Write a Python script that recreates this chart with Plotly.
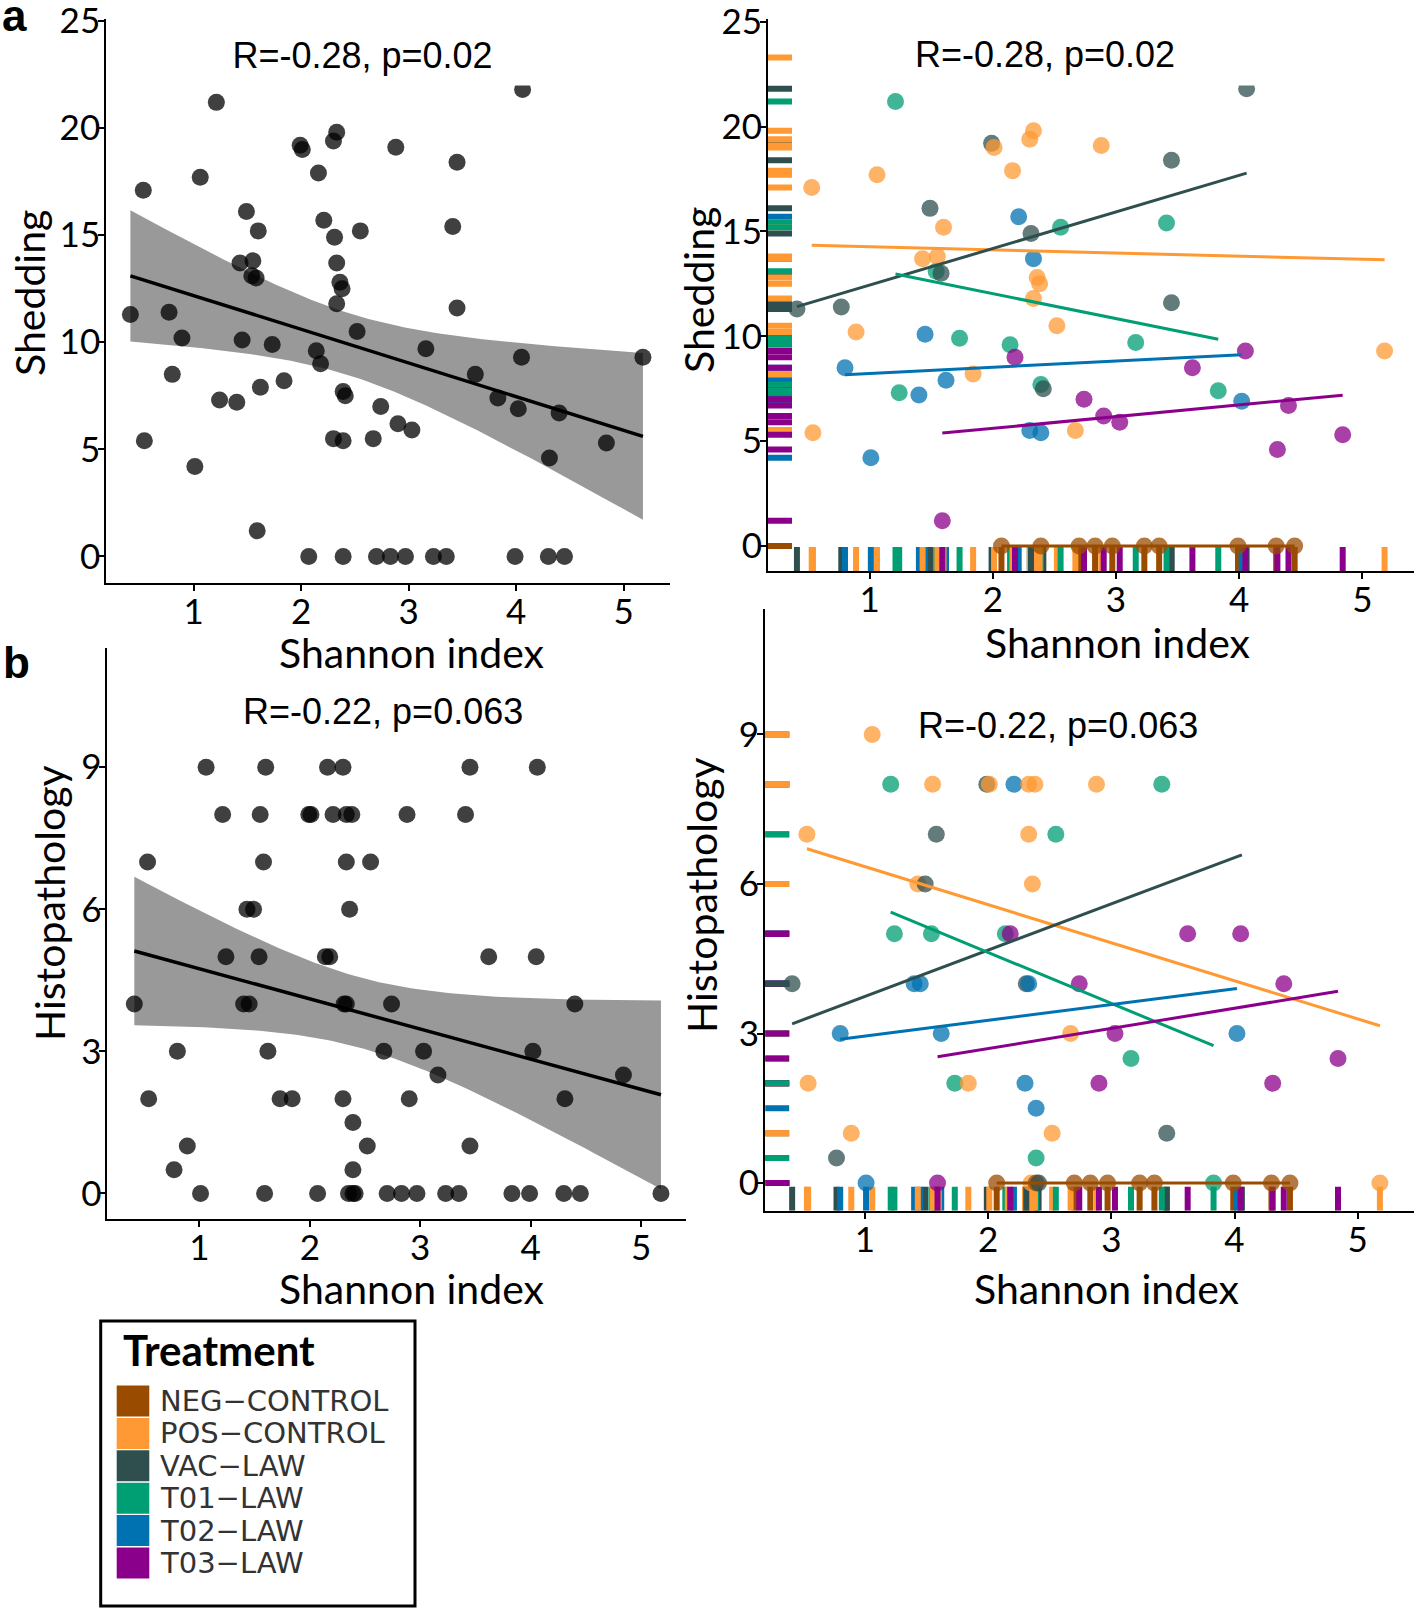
import numpy as np
import plotly.graph_objects as go

FIG_W, FIG_H = 1418, 1610

# ---------------- data ----------------
treatment_levels = ["NEG-CONTROL", "POS-CONTROL", "VAC-LAW", "T01-LAW", "T02-LAW", "T03-LAW"]
treatment_labels = ["NEG\u2212CONTROL", "POS\u2212CONTROL", "VAC\u2212LAW", "T01\u2212LAW", "T02\u2212LAW", "T03\u2212LAW"]
treatment_colors = ["#994C00", "#FF9933", "#2F4F4F", "#009E73", "#0072B2", "#8B008B"]

shannon = [
    2.07, 2.39, 2.70, 2.83, 2.97, 3.23, 3.35, 3.99, 4.30, 4.45,
    0.41, 0.77, 1.49, 1.58, 1.99, 2.41, 3.45, 3.45, 4.06,
    0.80, 1.01, 1.40, 1.45, 1.62, 2.21, 2.33, 2.30, 2.39, 4.02,
    1.21, 1.24, 1.54, 2.14, 2.39, 3.16, 3.41, 3.83,
    0.53, 0.54, 0.89, 1.06, 1.43, 1.55, 1.60, 1.84, 2.01, 2.16,
    2.30, 2.33, 2.33, 2.35, 2.36, 2.38, 2.52, 2.67, 2.88, 5.18,
    1.59, 2.18, 2.74, 2.90, 3.03, 3.62, 4.05, 4.31, 4.40, 4.84,
    2.31, 2.55, 1.73,
]
shedding = [
    0, 0, 0, 0, 0, 0, 0, 0, 0, 0,
    11.3, 11.4, 16.1, 13.0, 19.2, 7.5, 18.4, 11.6, 21.8,
    8.5, 4.2, 7.2, 10.1, 7.9, 15.7, 13.7, 5.5, 5.4, 6.9,
    21.2, 7.3, 13.1, 9.6, 7.7, 9.7, 15.4, 7.4,
    17.1, 5.4, 10.2, 17.7, 13.7, 13.8, 15.2, 8.2, 19.0, 17.9,
    19.4, 19.8, 11.8, 23.3, 12.8, 12.5, 10.5, 5.5, 19.1, 9.3,
    1.2, 9.0, 7.0, 6.2, 5.9, 8.5, 9.3, 4.6, 6.7, 5.3,
    14.9, 15.2, 9.9,
]
histopathology = [
    0, 0, 0, 0, 0, 0, 0, 0, 0, 0,
    4, 0.5, 6, 7, 8, 0, 9, 1, 9,
    3, 0, 4, 4, 3, 8, 4, 2, 1.5, 3,
    8, 5, 5, 5, 0.5, 2.5, 8, 0,
    7, 2, 1, 9, 6, 8, 9, 2, 8, 9,
    9, 8, 7, 0, 6, 8, 1, 3, 8, 0,
    0, 5, 4, 2, 3, 5, 5, 2, 4, 2.5,
    4, 7, 2,
]
treatment = (
    ["NEG-CONTROL"] * 10 + ["VAC-LAW"] * 9 + ["T02-LAW"] * 10 + ["T01-LAW"] * 8
    + ["POS-CONTROL"] * 20 + ["T03-LAW"] * 10 + ["VAC-LAW", "T01-LAW", "T01-LAW"]
)

x_ticks = [1, 2, 3, 4, 5]
shed_ticks = [0, 5, 10, 15, 20, 25]
histo_ticks = [0, 3, 6, 9]
shed_stat_label = "R=-0.28, p=0.02"
histo_stat_label = "R=-0.22, p=0.063"
x_title = "Shannon index"
shed_title = "Shedding"
histo_title = "Histopathology"
legend_title = "Treatment"

# ---------------- style / geometry ----------------
PANELS = {
    "shed_all": dict(x="x", y="y", xdom=[0.0749, 0.4725], ydom=[0.6379, 0.9883], xr=[0.185, 5.432], yr=[-1.24, 25.1]),
    "shed_grp": dict(x="x2", y="y2", xdom=[0.5416, 0.9972], ydom=[0.6453, 0.9883], xr=[0.175, 5.419], yr=[-1.20, 25.14]),
    "hist_all": dict(x="x3", y="y3", xdom=[0.0758, 0.4838], ydom=[0.2430, 0.5973], xr=[0.167, 5.407], yr=[-0.535, 11.51]),
    "hist_grp": dict(x="x4", y="y4", xdom=[0.5396, 0.9972], ydom=[0.2480, 0.6218], xr=[0.191, 5.457], yr=[-0.556, 11.52]),
}
TICK_FONT = dict(family="Lato, Open Sans, sans-serif", size=35, color="black")
TITLE_FONT = dict(family="Lato, Open Sans, sans-serif", size=41, color="black")
STAT_FONT = dict(family="Liberation Sans, Arial, sans-serif", size=36, color="black")
POINT_SIZE = 17
RUG_LEN = 24
RUG_WIDTH = 6
T_CRIT = 1.9955  # t(0.975, df=68)

color_of = dict(zip(treatment_levels, treatment_colors))
X = np.array(shannon, dtype=float)
SHED = np.array(shedding, dtype=float)
HIST = np.array(histopathology, dtype=float)
TRT = np.array(treatment)
COLS = np.array([color_of[t] for t in treatment])

fig = go.Figure()


def fit_band(x, y, n_grid=100):
    n = len(x)
    b1, b0 = np.polyfit(x, y, 1)
    xs = np.linspace(x.min(), x.max(), n_grid)
    yhat = b0 + b1 * xs
    resid = y - (b0 + b1 * x)
    s = np.sqrt(np.sum(resid ** 2) / (n - 2))
    sxx = np.sum((x - x.mean()) ** 2)
    se = s * np.sqrt(1.0 / n + (xs - x.mean()) ** 2 / sxx)
    return xs, yhat, yhat - T_CRIT * se, yhat + T_CRIT * se


def px_per_unit(p):
    ppx = (p["xdom"][1] - p["xdom"][0]) * FIG_W / (p["xr"][1] - p["xr"][0])
    ppy = (p["ydom"][1] - p["ydom"][0]) * FIG_H / (p["yr"][1] - p["yr"][0])
    return ppx, ppy


def overall_panel(p, y):
    xs, yhat, lo, hi = fit_band(X, y)
    fig.add_trace(go.Scatter(
        x=np.concatenate([xs, xs[::-1]]), y=np.concatenate([lo, hi[::-1]]),
        fill="toself", fillcolor="#999999", line=dict(width=0), mode="lines",
        hoverinfo="skip", showlegend=False, xaxis=p["x"], yaxis=p["y"]))
    fig.add_trace(go.Scatter(
        x=X, y=y, mode="markers", showlegend=False,
        marker=dict(size=POINT_SIZE, color="rgba(0,0,0,0.75)", line=dict(width=0)),
        xaxis=p["x"], yaxis=p["y"]))
    fig.add_trace(go.Scatter(
        x=xs, y=yhat, mode="lines", line=dict(color="black", width=3.5),
        showlegend=False, xaxis=p["x"], yaxis=p["y"]))


def group_panel(p, y):
    ppx, ppy = px_per_unit(p)
    # rugs (data order)
    fig.add_trace(go.Scatter(
        x=X, y=np.full(len(X), p["yr"][0] + RUG_LEN / 2 / ppy), mode="markers",
        marker=dict(symbol="line-ns-open", size=RUG_LEN / 1.4, color=list(COLS),
                    line=dict(width=RUG_WIDTH, color=list(COLS))),
        showlegend=False, hoverinfo="skip", xaxis=p["x"], yaxis=p["y"]))
    fig.add_trace(go.Scatter(
        x=np.full(len(X), p["xr"][0] + RUG_LEN / 2 / ppx), y=y, mode="markers",
        marker=dict(symbol="line-ew-open", size=RUG_LEN / 1.4, color=list(COLS),
                    line=dict(width=RUG_WIDTH, color=list(COLS))),
        showlegend=False, hoverinfo="skip", xaxis=p["x"], yaxis=p["y"]))
    # points sorted by Shannon index
    order = np.argsort(X, kind="stable")
    fig.add_trace(go.Scatter(
        x=X[order], y=y[order], mode="markers", showlegend=False,
        marker=dict(size=POINT_SIZE, color=list(COLS[order]), opacity=0.75, line=dict(width=0)),
        xaxis=p["x"], yaxis=p["y"]))
    # per-group linear fits
    for g in treatment_levels:
        m = TRT == g
        gx, gy = X[m], y[m]
        b1, b0 = np.polyfit(gx, gy, 1)
        xs = np.array([gx.min(), gx.max()])
        fig.add_trace(go.Scatter(
            x=xs, y=b0 + b1 * xs, mode="lines", line=dict(color=color_of[g], width=3),
            showlegend=False, xaxis=p["x"], yaxis=p["y"]))


overall_panel(PANELS["shed_all"], SHED)
group_panel(PANELS["shed_grp"], SHED)
overall_panel(PANELS["hist_all"], HIST)
group_panel(PANELS["hist_grp"], HIST)

# ---------------- axes ----------------
layout_axes = {}
for key, p in PANELS.items():
    xname = "xaxis" + p["x"][1:]
    yname = "yaxis" + p["y"][1:]
    yt = shed_ticks if key.startswith("shed") else histo_ticks
    common = dict(showline=True, linecolor="black", linewidth=2, ticks="outside",
                  ticklen=6, tickwidth=2, tickcolor="black", showgrid=False,
                  zeroline=False, tickfont=TICK_FONT, fixedrange=True,
                  ticklabeloverflow="allow", automargin=False)
    layout_axes[xname] = dict(domain=p["xdom"], range=p["xr"], anchor=p["y"],
                              tickvals=x_ticks, ticktext=[str(v) for v in x_ticks],
                              ticklabelstandoff=-9, **common)
    layout_axes[yname] = dict(domain=p["ydom"], range=p["yr"], anchor=p["x"],
                              tickvals=yt, ticktext=[str(v) for v in yt],
                              ticklabelstandoff=-9, **common)

# ---------------- annotations ----------------
ann = []
# statistics labels (white box like the original text boxes)
ann.append(dict(xref="x", yref="y", x=2.57, y=21.96, xanchor="center", yanchor="bottom",
                width=345, height=60, bgcolor="white", borderpad=0, valign="middle",
                text=shed_stat_label, font=STAT_FONT, showarrow=False))
ann.append(dict(xref="x2", yref="y2", x=2.42, y=21.93, xanchor="center", yanchor="bottom",
                width=430, height=62, bgcolor="white", borderpad=0, valign="middle",
                text=shed_stat_label, font=STAT_FONT, showarrow=False))
ann.append(dict(xref="x3", yref="y3", x=2.66, y=10.18, xanchor="center", yanchor="middle",
                text=histo_stat_label, font=STAT_FONT, showarrow=False))
ann.append(dict(xref="x4", yref="y4", x=1.39, y=9.19, xanchor="left", yanchor="middle",
                width=340, height=44, bgcolor="white", borderpad=4, align="left", valign="middle",
                text=histo_stat_label, font=STAT_FONT, showarrow=False))

# axis titles (pixel positions from the top-left)
titles = [
    (x_title, 411, 652, 0), (shed_title, 30, 293, -90),
    (x_title, 1117, 642, 0), (shed_title, 698, 290, -90),
    (x_title, 411, 1288, 0), (histo_title, 49, 903, -90),
    (x_title, 1106, 1288, 0), (histo_title, 701, 895, -90),
]
for txt, px, py, ang in titles:
    ann.append(dict(xref="paper", yref="paper", x=px / FIG_W, y=1 - py / FIG_H,
                    xanchor="center", yanchor="middle", textangle=ang,
                    text=txt, font=TITLE_FONT, showarrow=False))

# panel letters
for letter, px, py in [("a", 14, 16), ("b", 16, 662)]:
    ann.append(dict(xref="paper", yref="paper", x=px / FIG_W, y=1 - py / FIG_H,
                    xanchor="center", yanchor="middle", text="<b>%s</b>" % letter,
                    font=dict(family="Liberation Sans, Arial, sans-serif", size=44, color="black"),
                    showarrow=False))

# ---------------- manual legend ----------------
shapes = []
LEG_BOX = (100.7, 1321, 415, 1606)
shapes.append(dict(type="rect", xref="paper", yref="paper",
                   x0=LEG_BOX[0] / FIG_W, x1=LEG_BOX[2] / FIG_W,
                   y0=1 - LEG_BOX[3] / FIG_H, y1=1 - LEG_BOX[1] / FIG_H,
                   line=dict(color="black", width=3), fillcolor="rgba(0,0,0,0)"))
ann.append(dict(xref="paper", yref="paper", x=121 / FIG_W, y=1 - 1350 / FIG_H,
                xanchor="left", yanchor="middle", text="<b>%s</b>" % legend_title,
                font=dict(family="Lato, Open Sans, sans-serif", size=42, color="black"),
                showarrow=False))
for i, (lab, col) in enumerate(zip(treatment_labels, treatment_colors)):
    yc = 1401 + i * 32.4
    shapes.append(dict(type="rect", xref="paper", yref="paper",
                       x0=116.7 / FIG_W, x1=149.3 / FIG_W,
                       y0=1 - (yc + 15.5) / FIG_H, y1=1 - (yc - 15.5) / FIG_H,
                       line=dict(width=0), fillcolor=col))
    ann.append(dict(xref="paper", yref="paper", x=158 / FIG_W, y=1 - yc / FIG_H,
                    xanchor="left", yanchor="middle", text=lab,
                    font=dict(family="DejaVu Sans, Liberation Sans, sans-serif", size=29, color="#333333"),
                    showarrow=False))

fig.update_layout(
    width=FIG_W, height=FIG_H, margin=dict(l=0, r=0, t=0, b=0, autoexpand=False),
    paper_bgcolor="white", plot_bgcolor="white", showlegend=False,
    annotations=ann, shapes=shapes, **layout_axes,
)

fig.write_html("out.html", config={"displayModeBar": False},
               post_script="document.body.style.margin='0px';")
